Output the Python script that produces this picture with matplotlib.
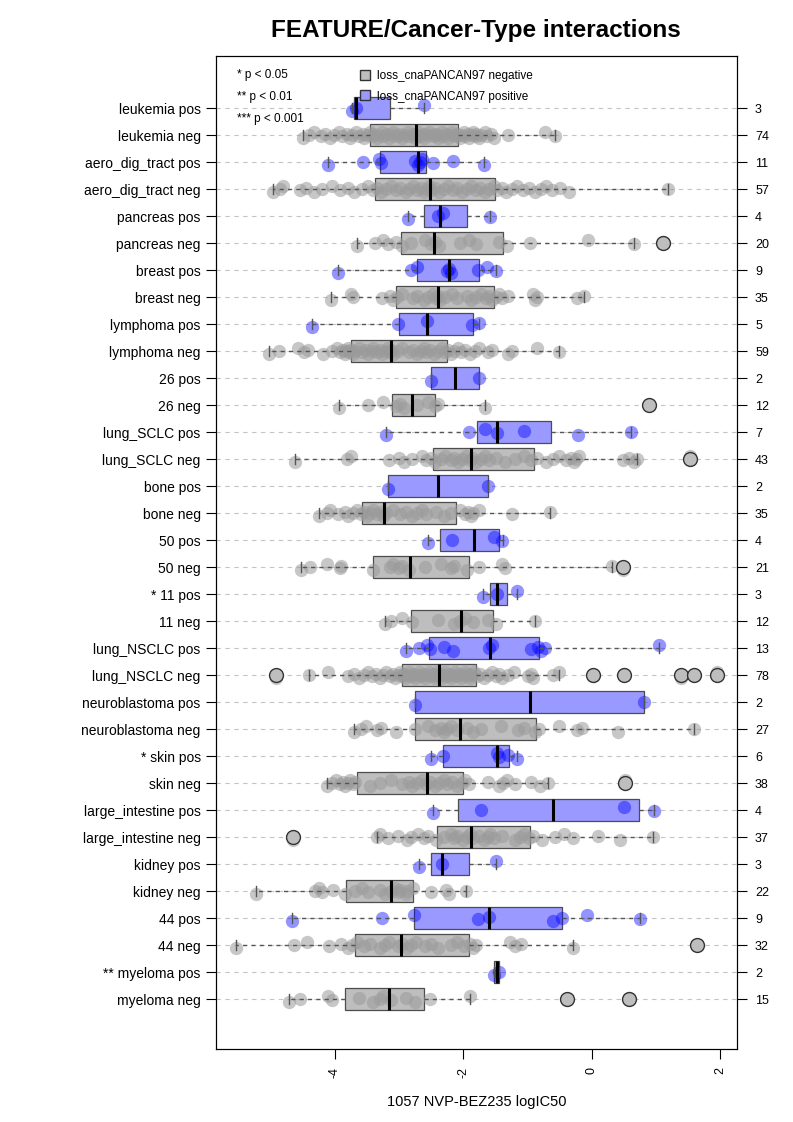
import matplotlib
matplotlib.use("Agg")
import matplotlib.pyplot as plt
from matplotlib.lines import Line2D
import numpy as np

plt.rcParams['font.family'] = ['Liberation Sans', 'DejaVu Sans']
plt.rcParams['axes.unicode_minus'] = False

# rows from top to bottom
labels = ["leukemia pos", "leukemia neg", "aero_dig_tract pos", "aero_dig_tract neg",
          "pancreas pos", "pancreas neg", "breast pos", "breast neg",
          "lymphoma pos", "lymphoma neg", "26 pos", "26 neg",
          "lung_SCLC pos", "lung_SCLC neg", "bone pos", "bone neg",
          "50 pos", "50 neg", "* 11 pos", "11 neg",
          "lung_NSCLC pos", "lung_NSCLC neg", "neuroblastoma pos", "neuroblastoma neg",
          "* skin pos", "skin neg", "large_intestine pos", "large_intestine neg",
          "kidney pos", "kidney neg", "44 pos", "44 neg",
          "** myeloma pos", "myeloma neg"]
counts = [3, 74, 11, 57, 4, 20, 9, 35, 5, 59, 2, 12, 7, 43, 2, 35, 4, 21, 3, 12,
          13, 78, 2, 27, 6, 38, 4, 37, 3, 22, 9, 32, 2, 15]
is_pos = [lab.endswith("pos") for lab in labels]

# box statistics
whislo = [-3.73, -4.49, -4.11, -4.97, -2.87, -3.65, -3.95, -4.06, -4.36, -5.03,
          -2.51, -3.93, -3.20, -4.62, -3.17, -4.24, -2.55, -4.52, -1.70, -3.22,
          -2.90, -4.40, -2.76, -3.71, -2.51, -4.12, -2.47, -3.34, -2.69, -5.23,
          -4.66, -5.54, -1.53, -4.71]
q1 = [-3.70, -3.45, -3.30, -3.38, -2.62, -2.97, -2.73, -3.05, -3.01, -3.75,
      -2.51, -3.11, -1.79, -2.48, -3.17, -3.58, -2.36, -3.40, -1.59, -2.82,
      -2.54, -2.95, -2.76, -2.76, -2.31, -3.66, -2.09, -2.41, -2.51, -3.83,
      -2.77, -3.69, -1.53, -3.84]
med = [-3.67, -2.74, -2.71, -2.52, -2.36, -2.46, -2.23, -2.40, -2.56, -3.12,
       -2.13, -2.80, -1.47, -1.88, -2.39, -3.23, -1.84, -2.83, -1.48, -2.04,
       -1.59, -2.38, -0.97, -2.05, -1.48, -2.57, -0.61, -1.88, -2.34, -3.13,
       -1.60, -2.97, -1.48, -3.16]
q3 = [-3.14, -2.09, -2.58, -1.51, -1.95, -1.39, -1.76, -1.53, -1.85, -2.25,
      -1.76, -2.44, -0.64, -0.90, -1.62, -2.11, -1.45, -1.91, -1.32, -1.54,
      -0.83, -1.81, 0.81, -0.87, -1.29, -2.01, 0.73, -0.96, -1.92, -2.78,
      -0.46, -1.91, -1.44, -2.61]
whishi = [-2.62, -0.58, -1.68, 1.19, -1.58, 0.65, -1.49, -0.13, -1.76, -0.52,
          -1.76, -1.66, 0.60, 0.70, -1.62, -0.66, -1.39, 0.31, -1.16, -0.89,
          1.04, -0.52, 0.81, 1.59, -1.16, -0.69, 0.96, 0.95, -1.50, -1.96,
          0.75, -0.30, -1.44, -1.90]
outliers = [[], [], [], [], [], [1.11], [], [], [], [],
            [], [0.88], [], [1.52], [], [], [], [0.48], [], [],
            [], [-4.91, 0.01, 0.50, 1.39, 1.59, 1.94], [], [], [], [0.52], [], [-4.65], [], [],
            [], [1.64], [], [-0.39, 0.58]]

# individual cell lines (logIC50)
points = [
    [-3.73, -3.67, -2.62],
    [-4.49, -4.41, -4.33, -4.21, -4.16, -4.07, -4.01, -3.94, -3.89, -3.81, -3.77, -3.73,
     -3.67, -3.63, -3.57, -3.55, -3.50, -3.46, -3.43, -3.41, -3.35, -3.33, -3.27, -3.25,
     -3.19, -3.16, -3.11, -3.09, -3.03, -3.01, -2.95, -2.93, -2.87, -2.85, -2.79, -2.76,
     -2.74, -2.70, -2.68, -2.62, -2.61, -2.55, -2.53, -2.47, -2.45, -2.40, -2.39, -2.33,
     -2.31, -2.26, -2.24, -2.18, -2.17, -2.12, -2.10, -2.06, -2.04, -1.99, -1.98, -1.93,
     -1.92, -1.87, -1.85, -1.81, -1.80, -1.75, -1.72, -1.67, -1.64, -1.57, -1.52, -1.30,
     -0.73, -0.58],
    [-4.11, -3.57, -3.31, -3.28, -2.75, -2.71, -2.68, -2.65, -2.47, -2.16, -1.68],
    [-4.97, -4.85, -4.80, -4.55, -4.45, -4.33, -4.20, -4.05, -3.92, -3.80, -3.70, -3.58,
     -3.48, -3.40, -3.35, -3.28, -3.20, -3.12, -3.05, -2.98, -2.90, -2.84, -2.78, -2.72,
     -2.66, -2.61, -2.57, -2.53, -2.50, -2.44, -2.38, -2.30, -2.24, -2.16, -2.10, -2.02,
     -1.95, -1.88, -1.80, -1.74, -1.66, -1.60, -1.53, -1.48, -1.40, -1.33, -1.25, -1.16,
     -1.08, -0.98, -0.88, -0.80, -0.72, -0.62, -0.50, -0.35, 1.19],
    [-2.87, -2.40, -2.32, -1.58],
    [-3.65, -3.38, -3.25, -3.17, -3.05, -2.96, -2.82, -2.60, -2.50, -2.44, -2.38, -2.05,
     -1.92, -1.80, -1.45, -1.32, -0.96, -0.06, 0.65, 1.11],
    [-3.95, -2.82, -2.73, -2.26, -2.23, -2.20, -1.77, -1.64, -1.49],
    [-4.06, -3.72, -3.75, -3.27, -3.15, -3.10, -3.03, -2.95, -2.78, -2.72, -2.62, -2.55,
     -2.48, -2.42, -2.40, -2.36, -2.28, -2.18, -2.10, -1.95, -1.88, -1.80, -1.72, -1.65,
     -1.60, -1.55, -1.50, -1.45, -1.40, -1.30, -0.88, -0.86, -0.92, -0.24, -0.13],
    [-4.36, -3.02, -2.56, -1.86, -1.76],
    [-5.03, -4.87, -4.58, -4.48, -4.42, -4.18, -4.05, -3.96, -3.92, -3.88, -3.85, -3.82,
     -3.80, -3.78, -3.76, -3.72, -3.68, -3.62, -3.58, -3.52, -3.48, -3.43, -3.40, -3.35,
     -3.30, -3.26, -3.22, -3.18, -3.15, -3.13, -3.10, -3.02, -2.95, -2.85, -2.78, -2.72,
     -2.66, -2.62, -2.58, -2.52, -2.46, -2.40, -2.34, -2.28, -2.24, -2.20, -2.15, -2.08,
     -2.03, -1.98, -1.90, -1.82, -1.75, -1.62, -1.55, -1.30, -1.25, -0.85, -0.52],
    [-2.51, -1.76],
    [-3.93, -3.49, -3.25, -3.05, -2.98, -2.92, -2.72, -2.55, -2.45, -2.40, -1.66, 0.88],
    [-3.20, -1.92, -1.67, -1.47, -1.05, -0.22, 0.60],
    [-4.62, -3.81, -3.75, -3.16, -3.00, -2.92, -2.80, -2.65, -2.58, -2.50, -2.45, -2.35,
     -2.28, -2.20, -2.15, -2.08, -2.02, -1.96, -1.90, -1.87, -1.80, -1.72, -1.66, -1.60,
     -1.50, -1.35, -1.20, -1.05, -0.95, -0.85, -0.72, -0.60, -0.52, -0.40, -0.32, -0.28,
     -0.25, -0.20, 0.48, 0.58, 0.65, 0.70, 1.52],
    [-3.17, -1.62],
    [-4.24, -4.12, -4.08, -3.95, -3.85, -3.80, -3.72, -3.66, -3.60, -3.55, -3.50, -3.46,
     -3.40, -3.34, -3.28, -3.25, -3.21, -3.10, -2.98, -2.90, -2.80, -2.72, -2.65, -2.58,
     -2.42, -2.30, -2.20, -2.05, -1.98, -1.93, -1.88, -1.85, -1.75, -1.25, -0.66],
    [-2.55, -2.18, -1.53, -1.40],
    [-4.52, -4.38, -4.12, -3.92, -3.90, -3.40, -3.15, -3.10, -3.00, -2.95, -2.85, -2.60,
     -2.35, -2.20, -2.15, -1.95, -1.75, -1.40, -1.35, 0.31, 0.48],
    [-1.70, -1.47, -1.16],
    [-3.22, -3.12, -2.95, -2.80, -2.40, -2.15, -2.05, -1.98, -1.85, -1.62, -1.50, -0.89],
    [-2.90, -2.69, -2.56, -2.52, -2.30, -2.16, -1.60, -1.56, -0.95, -0.84, -0.80, -0.73, 1.04],
    [-4.91, -4.40, -4.10, -3.80, -3.70, -3.62, -3.55, -3.48, -3.42, -3.36, -3.30, -3.25,
     -3.20, -3.15, -3.10, -3.06, -3.02, -2.99, -2.96, -2.94, -2.91, -2.88, -2.85, -2.82,
     -2.78, -2.75, -2.72, -2.69, -2.66, -2.63, -2.60, -2.57, -2.54, -2.51, -2.48, -2.45,
     -2.43, -2.41, -2.39, -2.37, -2.34, -2.31, -2.28, -2.25, -2.22, -2.19, -2.16, -2.13,
     -2.10, -2.07, -2.04, -2.01, -1.98, -1.95, -1.92, -1.89, -1.86, -1.83, -1.79, -1.74,
     -1.68, -1.62, -1.55, -1.50, -1.45, -1.40, -1.30, -1.22, -1.00, -0.95, -0.92, -0.60,
     -0.52, 0.01, 0.50, 1.39, 1.59, 1.94],
    [-2.76, 0.81],
    [-3.71, -3.60, -3.52, -3.35, -3.28, -3.05, -2.76, -2.55, -2.45, -2.35, -2.30, -2.25,
     -2.20, -2.10, -1.95, -1.85, -1.73, -1.42, -1.15, -1.05, -0.88, -0.83, -0.52, -0.24,
     -0.15, 0.41, 1.59],
    [-2.51, -2.31, -1.48, -1.44, -1.30, -1.16],
    [-4.12, -4.05, -3.98, -3.92, -3.88, -3.84, -3.80, -3.76, -3.72, -3.68, -3.45, -3.30,
     -3.12, -2.95, -2.85, -2.80, -2.72, -2.65, -2.58, -2.52, -2.45, -2.38, -2.30, -2.25,
     -2.18, -2.10, -2.02, -1.97, -1.92, -1.62, -1.45, -1.38, -1.32, -1.20, -0.95, -0.81,
     -0.69, 0.52],
    [-2.47, -1.73, 0.50, 0.96],
    [-4.65, -3.34, -3.30, -3.18, -3.02, -2.88, -2.82, -2.70, -2.62, -2.55, -2.42, -2.30,
     -2.20, -2.15, -2.10, -2.00, -1.95, -1.90, -1.85, -1.75, -1.68, -1.62, -1.58, -1.52,
     -1.40, -1.20, -1.12, -1.05, -0.98, -0.92, -0.78, -0.57, -0.44, -0.30, 0.09, 0.44, 0.95],
    [-2.69, -2.34, -1.50],
    [-5.23, -4.31, -4.25, -4.20, -4.03, -3.84, -3.68, -3.58, -3.48, -3.30, -3.22, -3.13,
     -3.07, -3.02, -2.98, -2.90, -2.88, -2.78, -2.50, -2.27, -2.22, -1.96],
    [-4.66, -3.27, -2.77, -1.77, -1.60, -0.61, -0.46, -0.07, 0.75],
    [-5.54, -4.63, -4.43, -4.09, -3.90, -3.80, -3.73, -3.65, -3.55, -3.45, -3.30, -3.22,
     -3.16, -3.02, -2.95, -2.88, -2.82, -2.74, -2.60, -2.50, -2.40, -2.20, -2.10, -1.99,
     -1.90, -1.85, -1.80, -1.27, -1.20, -1.11, -0.30, 1.64],
    [-1.53, -1.44],
    [-4.71, -4.55, -4.10, -4.05, -3.62, -3.40, -3.30, -3.25, -3.12, -2.90, -2.76, -2.52,
     -1.90, -0.39, 0.58],
]

n_rows = len(labels)
ypos = [n_rows - i for i in range(n_rows)]

fig = plt.figure(figsize=(7.93, 11.22), dpi=100)
ax = fig.add_axes([216 / 793, 1 - 1049 / 1122, 521 / 793, 993 / 1122])

# dashed guide lines
for y in ypos:
    ax.axhline(y, color='#c4c4c4', lw=0.8, ls=(0, (4, 4)), zorder=0)

# jittered points
for i, vals in enumerate(points):
    jit = np.array([((j * 7) % 5 - 2) * 0.05 for j in range(len(vals))])
    col = '#0000ff' if is_pos[i] else '#9a9a9a'
    a = 0.42 if is_pos[i] else 0.55
    ax.scatter(vals, ypos[i] + jit, s=92, color=col, alpha=a, lw=0, zorder=2)

for i in range(n_rows):
    st = dict(whislo=whislo[i], q1=q1[i], med=med[i], q3=q3[i],
              whishi=whishi[i], fliers=outliers[i])
    fc = '#9999ff' if is_pos[i] else '#bebebe'
    parts = ax.bxp([st], positions=[ypos[i]], widths=0.8, capwidths=0.38,
                   vert=False, patch_artist=True, manage_ticks=False,
                   boxprops=dict(facecolor=fc, edgecolor='#4d4d4d', lw=0.9),
                   medianprops=dict(color='black', lw=2.2),
                   whiskerprops=dict(color='#555555', lw=1.0, ls=(0, (3, 3))),
                   capprops=dict(color='#555555', lw=1.0),
                   flierprops=dict(marker='o', markersize=10, markerfacecolor='#bebebe',
                                   markeredgecolor='#333333', markeredgewidth=1.0))
    for b in parts['boxes']:
        b.set_zorder(1)
    for m in parts['medians'] + parts['fliers']:
        m.set_zorder(4)
    for w in parts['whiskers'] + parts['caps']:
        w.set_zorder(3)

ax.set_xlim(-5.85, 2.257)
ax.set_ylim(-0.85, 35.93)
ax.set_xticks([-4, -2, 0, 2])
ax.set_xticklabels(['-4', '-2', '0', '2'], rotation=90, fontsize=9)
ax.tick_params(axis='x', length=7, pad=6)
ax.set_yticks(ypos)
ax.set_yticklabels(labels, fontsize=10)
ax.tick_params(axis='y', length=7, pad=4)

ax2 = ax.twinx()
ax2.set_ylim(ax.get_ylim())
ax2.set_yticks(ypos)
ax2.set_yticklabels([str(c) for c in counts], fontsize=9)
ax2.tick_params(axis='y', length=7, pad=6)

ax.set_xlabel('1057 NVP-BEZ235 logIC50', fontsize=10.5, labelpad=12)
fig.text(476 / 793, 1 - 31 / 1122, 'FEATURE/Cancer-Type interactions',
         fontsize=17.5, fontweight='bold', ha='center', va='center')

# significance key
for k, txt in enumerate(['* p < 0.05', '** p < 0.01', '*** p < 0.001']):
    fig.text(237 / 793, 1 - (75 + 22 * k) / 1122, txt, fontsize=8.5, va='center', ha='left')

handles = [Line2D([], [], ls='none', marker='s', markersize=7, markerfacecolor='#bebebe',
                  markeredgecolor='#333333'),
           Line2D([], [], ls='none', marker='s', markersize=7, markerfacecolor='#9999ff',
                  markeredgecolor='#333333')]
fig.legend(handles, ['loss_cnaPANCAN97 negative', 'loss_cnaPANCAN97 positive'],
           loc='upper left', bbox_to_anchor=(350 / 793, 1 - 62 / 1122), frameon=False,
           fontsize=8.5, handletextpad=0.4, labelspacing=0.7, handlelength=1.2,
           borderpad=0.2)

fig.savefig('out.png', dpi=100)
